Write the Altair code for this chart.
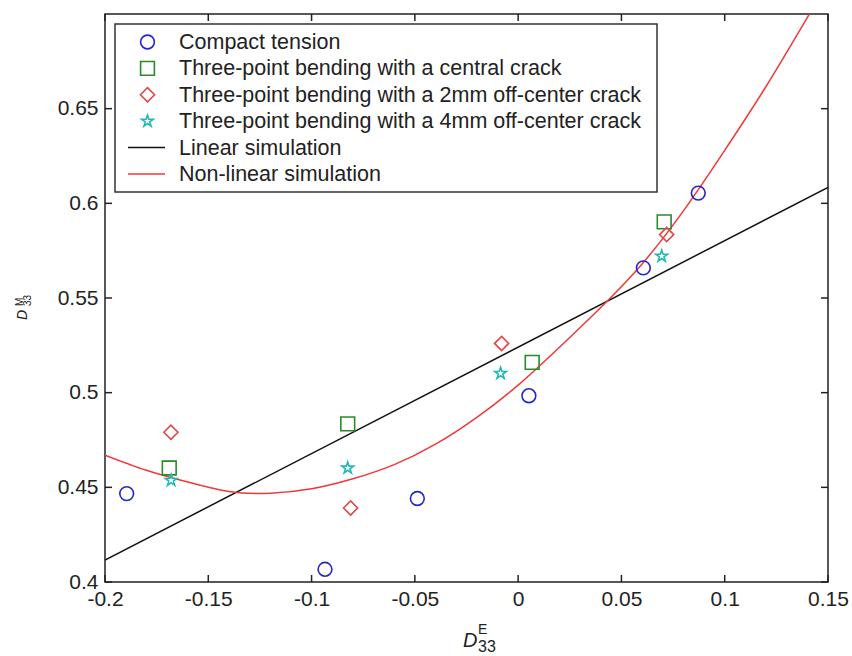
import altair as alt
import pandas as pd

# ---------------- data ----------------
ct_x = [-0.1895, -0.0935, -0.0488, 0.0052, 0.0606, 0.0872]
ct_y = [0.4467, 0.4067, 0.4441, 0.4984, 0.5659, 0.6054]

tc_x = [-0.1689, -0.0825, 0.0068, 0.0707]
tc_y = [0.4602, 0.4835, 0.5160, 0.5902]

t2_x = [-0.1681, -0.0811, -0.0080, 0.0719]
t2_y = [0.4791, 0.4391, 0.5260, 0.5835]

t4_x = [-0.1680, -0.0825, -0.0085, 0.0695]
t4_y = [0.4537, 0.4602, 0.5102, 0.5721]

lin_x = [-0.2, 0.15]
lin_y = [0.4116, 0.6084]

nl_x = [-0.20, -0.18, -0.16, -0.14, -0.12, -0.10, -0.08, -0.06, -0.04, -0.02,
        0.00, 0.02, 0.04, 0.06, 0.08, 0.10, 0.12, 0.141]
nl_y = [0.467, 0.459, 0.4528, 0.4478, 0.4469, 0.4492, 0.4545, 0.4620, 0.4728, 0.487,
        0.504, 0.524, 0.545, 0.568, 0.596, 0.628, 0.6617, 0.700]

x_ticks = [-0.2, -0.15, -0.1, -0.05, 0, 0.05, 0.1, 0.15]
y_ticks = [0.4, 0.45, 0.5, 0.55, 0.6, 0.65]

labels = [
    "Compact tension",
    "Three-point bending with a central crack",
    "Three-point bending with a 2mm off-center crack",
    "Three-point bending with a 4mm off-center crack",
    "Linear simulation",
    "Non-linear simulation",
]

# ---------------- styling ----------------
W, H = 723, 568
FONT = "Liberation Sans"
C_BLUE = "#2424d0"
C_GREEN = "#2a8a2a"
C_RED_M = "#e04848"
C_CYAN = "#22b8b8"
C_BLACK = "#111111"
C_RED_L = "#f03838"
STAR = ("M0,-1L0.2245,-0.309L0.951,-0.309L0.363,0.118L0.588,0.809L0,0.382"
        "L-0.588,0.809L-0.363,0.118L-0.951,-0.309L-0.2245,-0.309Z")

xs = alt.Scale(domain=[-0.2, 0.15], nice=False, zero=False)
ys = alt.Scale(domain=[0.4, 0.7], nice=False, zero=False)

x_axis = alt.Axis(values=x_ticks, labelExpr="'' + datum.value", title=None,
                  ticks=False, domain=False, grid=False, labelFontSize=21,
                  labelFont=FONT, labelColor="#222", labelPadding=6,
                  labelFlush=False)
y_axis = alt.Axis(values=y_ticks, labelExpr="'' + datum.value", title=None,
                  ticks=False, domain=False, grid=False, labelFontSize=21,
                  labelFont=FONT, labelColor="#222", labelPadding=7)


def X(field):
    return alt.X(field, type="quantitative", scale=xs, axis=x_axis, title=None)


def Y(field):
    return alt.Y(field, type="quantitative", scale=ys, axis=y_axis, title=None)


layers = []

# linear simulation
lin_df = pd.DataFrame({"x": lin_x, "y": lin_y})
layers.append(alt.Chart(lin_df).mark_line(color=C_BLACK, strokeWidth=1.5, clip=True)
              .encode(x=X("x"), y=Y("y")))

# non-linear simulation
nl_df = pd.DataFrame({"x": nl_x, "y": nl_y})
layers.append(alt.Chart(nl_df).mark_line(color=C_RED_L, strokeWidth=1.5,
                                         interpolate="natural", clip=True)
              .encode(x=X("x"), y=Y("y")))

# markers
for xx, yy, shape, col, size in [
    (ct_x, ct_y, "circle", C_BLUE, 190),
    (tc_x, tc_y, "square", C_GREEN, 190),
    (t2_x, t2_y, "diamond", C_RED_M, 200),
    (t4_x, t4_y, STAR, C_CYAN, 150),
]:
    df = pd.DataFrame({"x": xx, "y": yy})
    layers.append(alt.Chart(df).mark_point(shape=shape, filled=False, color=col,
                                           size=size, strokeWidth=1.6, opacity=1)
                  .encode(x=X("x"), y=Y("y")))

# inward ticks (box style)
xt_df = pd.DataFrame({"x": x_ticks})
yt_df = pd.DataFrame({"y": y_ticks})
TK = 7
tick_style = dict(color="#222", strokeWidth=1.5)
layers.append(alt.Chart(xt_df).mark_rule(**tick_style)
              .encode(x=X("x"), y=alt.value(H), y2=alt.value(H - TK)))
layers.append(alt.Chart(xt_df).mark_rule(**tick_style)
              .encode(x=X("x"), y=alt.value(0), y2=alt.value(TK)))
layers.append(alt.Chart(yt_df).mark_rule(**tick_style)
              .encode(y=Y("y"), x=alt.value(0), x2=alt.value(TK)))
layers.append(alt.Chart(yt_df).mark_rule(**tick_style)
              .encode(y=Y("y"), x=alt.value(W), x2=alt.value(W - TK)))

# legend box
one = pd.DataFrame({"a": [0]})
layers.append(alt.Chart(one).mark_rect(fill="white", stroke="#333", strokeWidth=1.5)
              .encode(x=alt.value(10), x2=alt.value(552),
                      y=alt.value(10), y2=alt.value(178)))

leg_sym = [
    ("circle", C_BLUE, 190),
    ("square", C_GREEN, 190),
    ("diamond", C_RED_M, 200),
    (STAR, C_CYAN, 150),
]
ROW0, DROW = 28, 26.4
for i, lab in enumerate(labels):
    ry = ROW0 + i * DROW
    if i < 4:
        shp, col, sz = leg_sym[i]
        layers.append(alt.Chart(one).mark_point(shape=shp, filled=False, color=col,
                                                size=sz, strokeWidth=1.6, opacity=1)
                      .encode(x=alt.value(42.5), y=alt.value(ry)))
    else:
        col = C_BLACK if i == 4 else C_RED_L
        layers.append(alt.Chart(one).mark_rule(color=col, strokeWidth=1.5)
                      .encode(x=alt.value(23), x2=alt.value(60), y=alt.value(ry)))
    layers.append(alt.Chart(pd.DataFrame({"label": [lab]}))
                  .mark_text(align="left", baseline="middle", fontSize=21.5,
                             font=FONT, color="#222")
                  .encode(x=alt.value(74), y=alt.value(ry + 1), text="label:N"))


# axis titles (D with super/subscripts)
def txt(s, x, y, size, italic=False, angle=0):
    kw = dict(align="left", baseline="alphabetic", fontSize=size, font=FONT,
              color="#222")
    if italic:
        kw["fontStyle"] = "italic"
    if angle:
        kw["angle"] = angle
    return (alt.Chart(pd.DataFrame({"t": [s]})).mark_text(**kw)
            .encode(x=alt.value(x), y=alt.value(y), text="t:N"))


layers.append(txt("D", 358, 633, 20, italic=True))
layers.append(txt("E", 373, 620, 14))
layers.append(txt("33", 373, 638, 16))

layers.append(txt("D", -78, 306, 14, italic=True, angle=270))
layers.append(txt("M", -82, 292, 10, angle=270))
layers.append(txt("33", -74, 292, 10, angle=270))

chart = (alt.layer(*layers)
         .properties(width=W, height=H, background="white",
                     padding={"left": 105, "top": 14, "right": 24, "bottom": 74},
                     autosize=alt.AutoSizeParams(type="none"))
         .configure_view(stroke="#222", strokeWidth=1.5))

chart.save("out.html", embed_options={"renderer": "svg", "actions": False})
